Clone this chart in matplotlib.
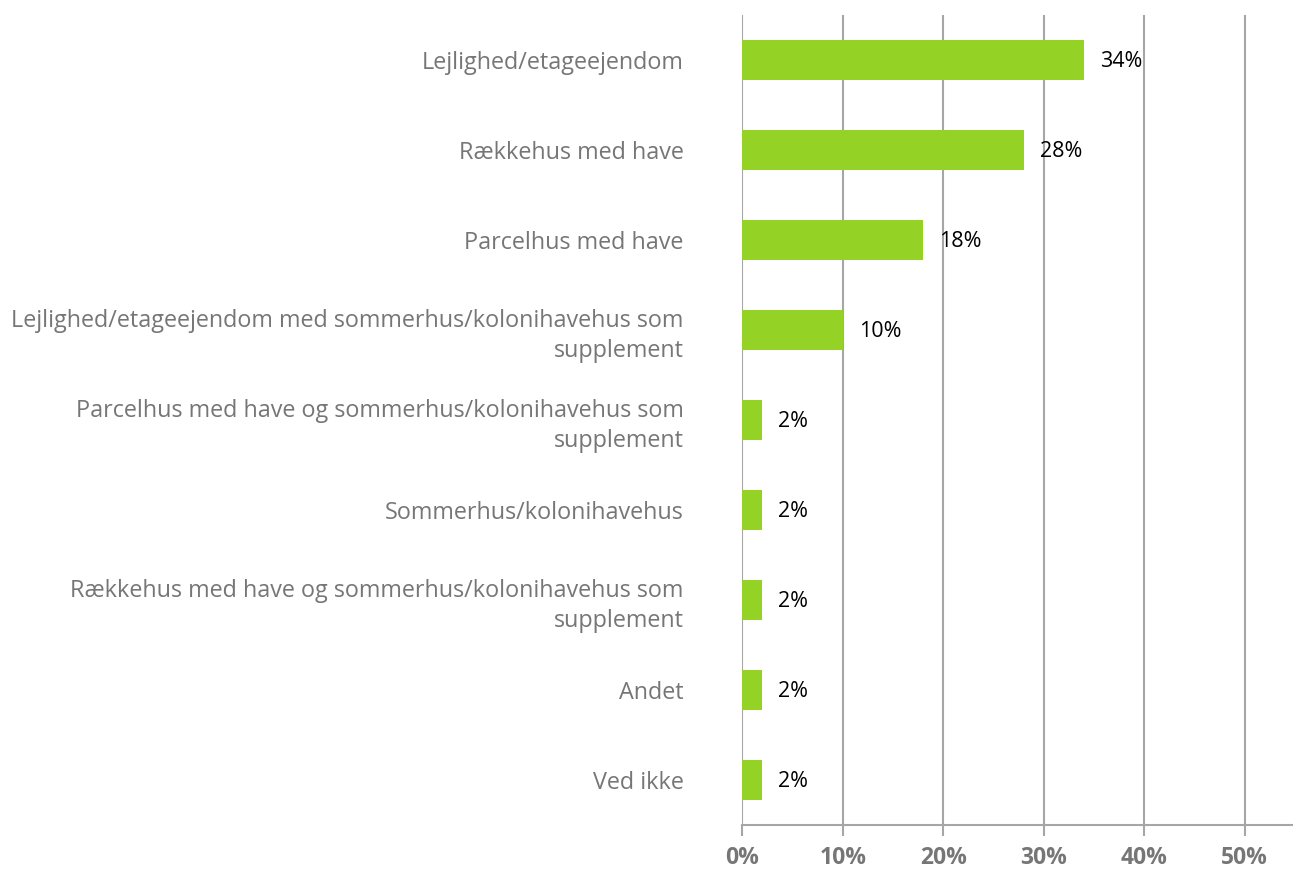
import matplotlib.pyplot as plt
from matplotlib.ticker import FuncFormatter

# data
kategorier = [
    "Lejlighed/etageejendom",
    "Rækkehus med have",
    "Parcelhus med have",
    "Lejlighed/etageejendom med sommerhus/kolonihavehus som\nsupplement",
    "Parcelhus med have og sommerhus/kolonihavehus som\nsupplement",
    "Sommerhus/kolonihavehus",
    "Rækkehus med have og sommerhus/kolonihavehus som\nsupplement",
    "Andet",
    "Ved ikke",
]
andele = [0.34, 0.28, 0.18, 0.10, 0.02, 0.02, 0.02, 0.02, 0.02]
xticks = [0, 0.1, 0.2, 0.3, 0.4, 0.5]

plt.rcParams['font.family'] = ['Open Sans', 'DejaVu Sans']

fig = plt.figure(figsize=(12.93, 8.69), dpi=100)
ax = fig.add_axes([0.574, 0.0506, 0.426, 0.932])

ypos = list(range(len(kategorier)))
ax.barh(ypos, andele, height=0.44, color='#94D226', zorder=3)

for y, v in zip(ypos, andele):
    ax.text(v + 0.016, y + 0.02, f"{round(v * 100)}%", va='center', ha='left',
            fontsize=15.5, color='black', zorder=4)

ax.set_ylim(len(kategorier) - 0.5, -0.5)
ax.set_xlim(0, 0.548)
ax.set_yticks(ypos)
ax.set_yticklabels(kategorier, fontsize=16.8, color='#767676', ha='right',
                   multialignment='right', linespacing=1.35)
ax.tick_params(axis='y', length=0, pad=42)

ax.set_xticks(xticks)
ax.xaxis.set_major_formatter(FuncFormatter(lambda x, p: f"{round(x * 100)}%"))
ax.tick_params(axis='x', length=8, width=1.5, color='#A6A6A6', labelsize=16.5,
               labelcolor='#767676', pad=7)
for lbl in ax.get_xticklabels():
    lbl.set_fontweight('bold')

ax.grid(axis='x', color='#A6A6A6', linewidth=1.5, zorder=0)
for side in ['top', 'right', 'left']:
    ax.spines[side].set_visible(False)
ax.spines['bottom'].set_color('#A6A6A6')
ax.spines['bottom'].set_linewidth(1.5)

fig.savefig('out.png', dpi=100)
